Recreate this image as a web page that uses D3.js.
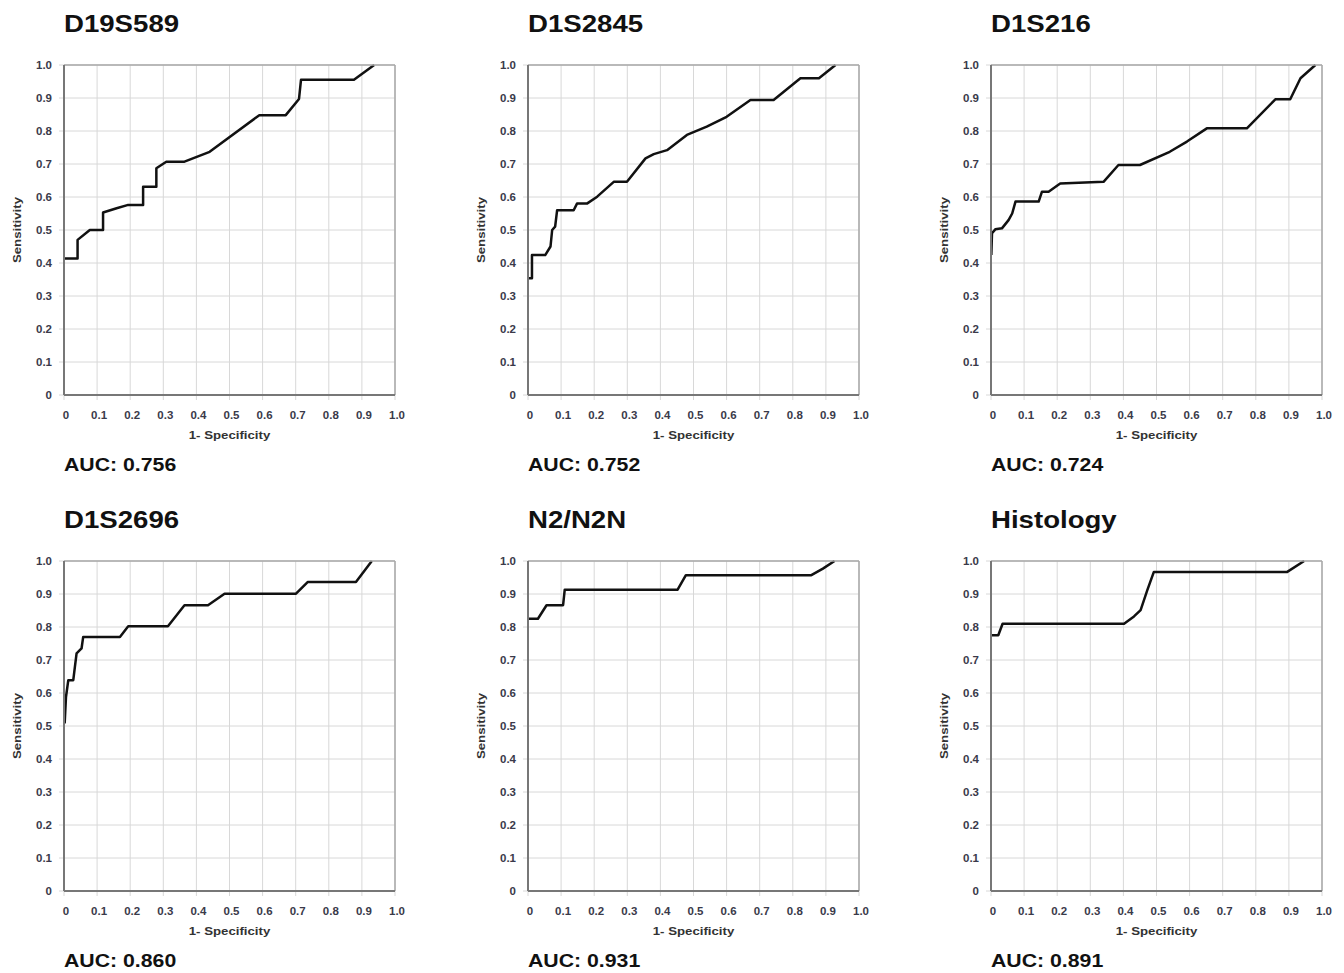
<!DOCTYPE html>
<html>
<head>
<meta charset="utf-8">
<script src="https://cdn.jsdelivr.net/npm/d3@7"></script>
<style>
  html, body { margin: 0; padding: 0; background: #fff; }
  svg { display: block; }
</style>
</head>
<body>
<svg id="chart" width="1344" height="973"></svg>
<script>
// ---- Data ----
const panelTitles = ["D19S589", "D1S2845", "D1S216", "D1S2696", "N2/N2N", "Histology"];
const aucLabels = ["AUC: 0.756", "AUC: 0.752", "AUC: 0.724", "AUC: 0.860", "AUC: 0.931", "AUC: 0.891"];
const tickValues = [0, 0.1, 0.2, 0.3, 0.4, 0.5, 0.6, 0.7, 0.8, 0.9, 1.0];
const tickLabels = ["0", "0.1", "0.2", "0.3", "0.4", "0.5", "0.6", "0.7", "0.8", "0.9", "1.0"];
const xAxisTitle = "1- Specificity";
const yAxisTitle = "Sensitivity";

const fpr_D19S589 = [0, 0.041, 0.041, 0.078, 0.118, 0.118, 0.159, 0.194, 0.239, 0.239, 0.279, 0.279, 0.309, 0.364, 0.44, 0.59, 0.67, 0.71, 0.716, 0.876, 0.937];
const tpr_D19S589 = [0.414, 0.414, 0.47, 0.5, 0.5, 0.553, 0.566, 0.576, 0.576, 0.631, 0.631, 0.687, 0.707, 0.707, 0.737, 0.848, 0.848, 0.897, 0.955, 0.955, 1.0];

const fpr_D1S2845 = [0.002, 0.012, 0.012, 0.052, 0.068, 0.073, 0.082, 0.088, 0.138, 0.148, 0.178, 0.209, 0.259, 0.299, 0.355, 0.38, 0.42, 0.48, 0.54, 0.6, 0.672, 0.742, 0.823, 0.879, 0.929];
const tpr_D1S2845 = [0.354, 0.354, 0.424, 0.424, 0.45, 0.5, 0.51, 0.56, 0.56, 0.58, 0.58, 0.601, 0.646, 0.646, 0.717, 0.73, 0.742, 0.788, 0.813, 0.843, 0.894, 0.894, 0.96, 0.96, 1.0];

const fpr_D1S216 = [0.001, 0.003, 0.013, 0.033, 0.053, 0.064, 0.074, 0.144, 0.154, 0.174, 0.209, 0.34, 0.385, 0.45, 0.54, 0.592, 0.652, 0.773, 0.859, 0.904, 0.935, 0.98];
const tpr_D1S216 = [0.424, 0.49, 0.502, 0.505, 0.53, 0.55, 0.586, 0.586, 0.616, 0.616, 0.641, 0.646, 0.697, 0.697, 0.737, 0.768, 0.808, 0.808, 0.896, 0.896, 0.96, 1.0];

const fpr_D1S2696 = [0.002, 0.006, 0.013, 0.028, 0.033, 0.038, 0.053, 0.058, 0.169, 0.194, 0.314, 0.364, 0.435, 0.485, 0.701, 0.736, 0.882, 0.93];
const tpr_D1S2696 = [0.508, 0.588, 0.639, 0.639, 0.68, 0.72, 0.735, 0.77, 0.77, 0.802, 0.802, 0.866, 0.866, 0.901, 0.901, 0.936, 0.936, 1.0];

const fpr_N2N2N = [0.002, 0.03, 0.056, 0.106, 0.111, 0.452, 0.477, 0.856, 0.891, 0.926];
const tpr_N2N2N = [0.825, 0.825, 0.866, 0.866, 0.913, 0.913, 0.957, 0.957, 0.977, 1.0];

const fpr_Histology = [0.001, 0.022, 0.035, 0.402, 0.432, 0.452, 0.472, 0.492, 0.895, 0.946];
const tpr_Histology = [0.775, 0.775, 0.81, 0.81, 0.832, 0.851, 0.911, 0.967, 0.967, 1.0];

const fprSeries = [fpr_D19S589, fpr_D1S2845, fpr_D1S216, fpr_D1S2696, fpr_N2N2N, fpr_Histology];
const tprSeries = [tpr_D19S589, tpr_D1S2845, tpr_D1S216, tpr_D1S2696, tpr_N2N2N, tpr_Histology];

// ---- Layout ----
const colLeft = [64, 528, 991];
const rowTop = [65, 561];
const plotW = 331, plotH = 330;
const stretch = 1.15;

const svg = d3.select("#chart");
const font = "'Liberation Sans', Arial, Helvetica, sans-serif";

function label(g, x, y, txt, opts) {
  const rot = opts.rotate ? ` rotate(${opts.rotate})` : "";
  return g.append("text")
    .attr("transform", `translate(${x},${y})${rot} scale(${stretch},1)`)
    .attr("text-anchor", opts.anchor || "start")
    .attr("font-family", font)
    .attr("font-size", opts.size)
    .attr("font-weight", "bold")
    .attr("fill", opts.fill || "#111")
    .text(txt);
}

panelTitles.forEach((title, i) => {
  const col = i % 3, row = Math.floor(i / 3);
  const g = svg.append("g").attr("transform", `translate(${colLeft[col]},${rowTop[row]})`);
  const x = d3.scaleLinear().domain([0, 1]).range([0, plotW]);
  const y = d3.scaleLinear().domain([0, 1]).range([plotH, 0]);

  // grid lines (extend a bit outside as tick stubs)
  g.append("g").selectAll("line").data(tickValues.slice(1)).join("line")
    .attr("x1", d => x(d)).attr("x2", d => x(d))
    .attr("y1", 0).attr("y2", plotH + 5)
    .attr("stroke", "#d8d8d8").attr("stroke-width", 1);
  g.append("g").selectAll("line").data(tickValues.slice(1)).join("line")
    .attr("y1", d => y(d)).attr("y2", d => y(d))
    .attr("x1", -5).attr("x2", plotW)
    .attr("stroke", "#d8d8d8").attr("stroke-width", 1);
  g.append("line").attr("x1", -5).attr("x2", 0).attr("y1", plotH).attr("y2", plotH)
    .attr("stroke", "#d8d8d8");
  g.append("line").attr("x1", 0).attr("x2", 0).attr("y1", plotH).attr("y2", plotH + 5)
    .attr("stroke", "#d8d8d8");

  // ROC curve
  const pts = fprSeries[i].map((v, k) => [v, tprSeries[i][k]]);
  g.append("path")
    .datum(pts)
    .attr("d", d3.line().x(d => x(d[0])).y(d => y(d[1])))
    .attr("fill", "none")
    .attr("stroke", "#111")
    .attr("stroke-width", 2.5)
    .attr("stroke-linejoin", "round");

  // frame: top/right lighter, left/bottom darker
  g.append("line").attr("x1", 0).attr("x2", plotW).attr("y1", 0).attr("y2", 0)
    .attr("stroke", "#a8a8a8").attr("stroke-width", 1.5);
  g.append("line").attr("x1", plotW).attr("x2", plotW).attr("y1", 0).attr("y2", plotH)
    .attr("stroke", "#a8a8a8").attr("stroke-width", 1.5);
  g.append("line").attr("x1", 0).attr("x2", 0).attr("y1", 0).attr("y2", plotH)
    .attr("stroke", "#777").attr("stroke-width", 2);
  g.append("line").attr("x1", 0).attr("x2", plotW).attr("y1", plotH).attr("y2", plotH)
    .attr("stroke", "#777").attr("stroke-width", 2);

  // tick labels
  tickValues.forEach((d, k) => {
    label(g, x(d) + 2, plotH + 24, tickLabels[k], { anchor: "middle", size: 10, fill: "#3a3a4a" });
    label(g, -12, y(d) + 3.5, tickLabels[k], { anchor: "end", size: 10, fill: "#3a3a4a" });
  });

  // axis titles
  label(g, plotW / 2, plotH + 44, xAxisTitle, { anchor: "middle", size: 11.5, fill: "#333" });
  label(g, -43, plotH / 2, yAxisTitle, { anchor: "middle", size: 11.5, fill: "#333", rotate: -90 });

  // panel title
  label(g, 0, -33, title, { size: 24, fill: "#111" });

  // AUC
  label(g, 0, plotH + 76, aucLabels[i], { size: 18.5, fill: "#111" });
});
</script>
</body>
</html>
